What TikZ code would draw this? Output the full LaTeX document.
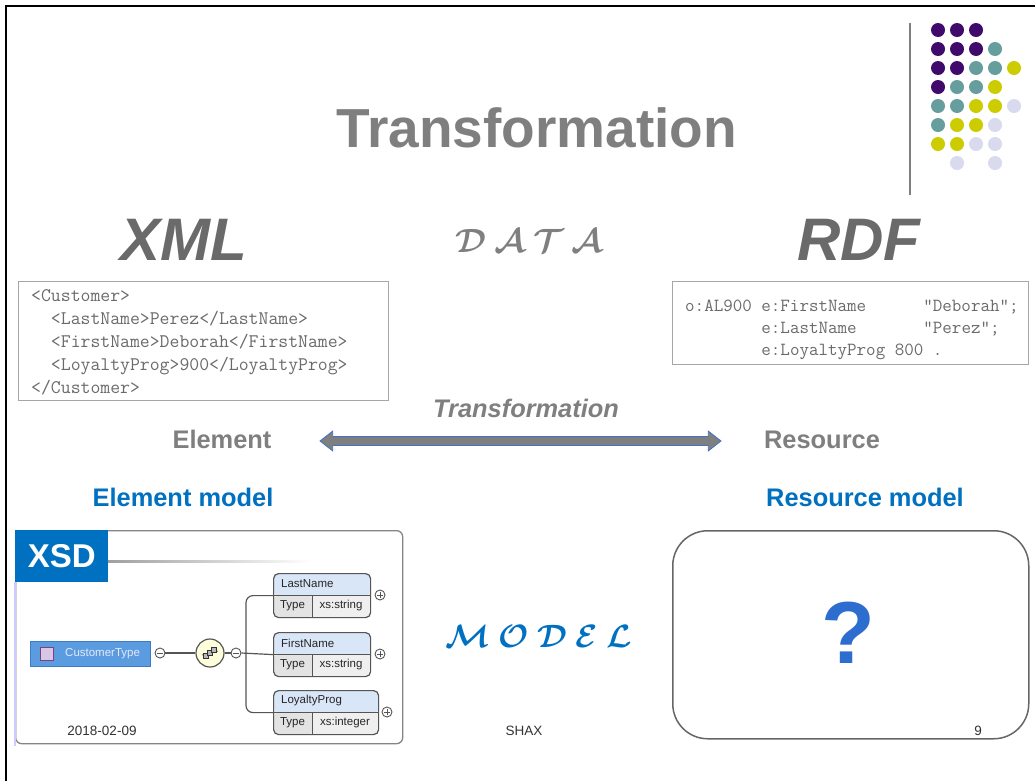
\documentclass[tikz,border=0pt]{standalone}
\usepackage{fontspec}
\setmainfont{Liberation Sans}
\usetikzlibrary{shapes.arrows}

\definecolor{titlegray}{HTML}{7F7F7F}
\definecolor{codegray}{HTML}{6A6A6A}
\definecolor{boxgray}{HTML}{A6A6A6}
\definecolor{modelblue}{HTML}{0070C0}
\definecolor{qblue}{HTML}{2E6DD0}
\definecolor{arrowblue}{HTML}{4472C4}
\definecolor{dpurple}{HTML}{3F0A6B}
\definecolor{dteal}{HTML}{669D9D}
\definecolor{dyellow}{HTML}{CCCC00}
\definecolor{dlav}{HTML}{DADAEE}
\definecolor{ctblue}{HTML}{5B9BE0}
\definecolor{ctedge}{HTML}{3C7CC8}
\definecolor{cttext}{HTML}{E4EAFA}
\definecolor{hdrblue}{HTML}{D9E6F7}
\definecolor{cellgray}{HTML}{EFEFEF}
\definecolor{typegray}{HTML}{E3E3E3}
\definecolor{edgegray}{HTML}{555555}
\definecolor{seqfill}{HTML}{FFFFDC}
\definecolor{footgray}{HTML}{333333}

\tikzset{
  codebox/.style={draw=boxgray, line width=1pt, inner sep=0pt, anchor=north west},
  codetext/.style={text=codegray, inner sep=0pt, anchor=north west, align=left},
  bigword/.style={text=codegray, anchor=base, font=\bfseries\itshape\fontsize{60}{60}\selectfont},
  scriptword/.style={anchor=base, font=\boldmath\fontsize{25}{25}\selectfont},
  midword/.style={text=titlegray, anchor=base, font=\bfseries\fontsize{25.4}{26}\selectfont},
  modelword/.style={text=modelblue, anchor=base, font=\bfseries\fontsize{25.4}{26}\selectfont},
  foot/.style={text=footgray, anchor=base, font=\fontsize{13.5}{14}\selectfont},
  small/.style={text=black!85, inner sep=0pt, font=\fontsize{11.5}{12}\selectfont},
  xline/.style={draw=edgegray, line width=1.2pt},
  pm/.style={circle, draw=edgegray, fill=white, line width=0.9pt, minimum size=10pt, inner sep=0pt},
  minus/.style={pm, path picture={\draw[line width=0.9pt]
      ([xshift=-2.6pt]path picture bounding box.center) --
      ([xshift=2.6pt]path picture bounding box.center);}},
  plus/.style={pm, path picture={\draw[line width=0.9pt]
      ([xshift=-2.6pt]path picture bounding box.center) --
      ([xshift=2.6pt]path picture bounding box.center)
      ([yshift=-2.6pt]path picture bounding box.center) --
      ([yshift=2.6pt]path picture bounding box.center);}},
  elem/.style={draw=edgegray, line width=1.2pt, rounded corners=5pt, fill=cellgray,
    minimum height=44pt, inner sep=0pt, anchor=north west,
    path picture={
      \fill[typegray] ([yshift=-22pt]path picture bounding box.north west)
          rectangle ([xshift=39pt]path picture bounding box.south west);
      \fill[hdrblue] (path picture bounding box.north west)
          rectangle ([yshift=-22pt]path picture bounding box.north east);
      \draw[edgegray, line width=1pt]
          ([yshift=-22pt]path picture bounding box.north west) --
          ([yshift=-22pt]path picture bounding box.north east)
          ([xshift=39pt,yshift=-22pt]path picture bounding box.north west) --
          ([xshift=39pt]path picture bounding box.south west);}},
}

\begin{document}
\begin{tikzpicture}[x=1pt,y=-1pt]
\useasboundingbox (0,0) rectangle (1035,780);
\fill[white] (0,0) rectangle (1035,780);

% slide frame
\draw[black, line width=2.2pt] (6,782) -- (6,6) -- (1037,6);

% corner decoration: rule and dot grid
\draw[titlegray, line width=1.6pt] (910,23) -- (910,195);
\foreach \c/\r/\col in {
  1/1/dpurple,2/1/dpurple,3/1/dpurple,
  1/2/dpurple,2/2/dpurple,3/2/dpurple,4/2/dteal,
  1/3/dpurple,2/3/dpurple,3/3/dteal,4/3/dteal,5/3/dyellow,
  1/4/dpurple,2/4/dteal,3/4/dteal,4/4/dyellow,
  1/5/dteal,2/5/dteal,3/5/dyellow,4/5/dyellow,5/5/dlav,
  1/6/dteal,2/6/dyellow,3/6/dyellow,4/6/dlav,
  1/7/dyellow,2/7/dyellow,3/7/dlav,4/7/dlav,
  2/8/dlav,4/8/dlav}
  \fill[\col] ({919+19*\c},{11+19*\r}) circle (7pt);

% title
\node[text=titlegray, anchor=base, font=\bfseries\fontsize{55}{57}\selectfont]
  (title) at (537,147) {Transformation};

% headings of the two columns
\node[bigword] (xml) at (184,260) {XML};
\node[bigword] (rdf) at (859,260) {RDF};
\node[scriptword, text=titlegray] (data) at (529,252)
  {\scalebox{1.35}{$\mathcal{D}\hspace{6pt}\mathcal{A}\hspace{6pt}\mathcal{T}\hspace{6pt}\mathcal{A}$}};

% XML sample
\node[codebox, minimum width=370pt, minimum height=119pt] (xmlbox) at (18,281) {};
\node[codetext, font=\ttfamily\fontsize{19.2}{23}\selectfont] (xmlcode) at (31,289) {%
<Customer>\\
\ \ <LastName>Perez</LastName>\\
\ \ <FirstName>Deborah</FirstName>\\
\ \ <LoyaltyProg>900</LoyaltyProg>\\
</Customer>};

% RDF sample
\node[codebox, minimum width=356pt, minimum height=83pt] (rdfbox) at (672,281) {};
\node[codetext, font=\ttfamily\fontsize{18.5}{22}\selectfont] (rdfcode) at (685,300) {%
o:AL900\ e:FirstName\ \ \ \ \ \ "Deborah";\\
\ \ \ \ \ \ \ \ e:LastName\ \ \ \ \ \ \ "Perez";\\
\ \ \ \ \ \ \ \ e:LoyaltyProg\ 800\ .};

% transformation between element and resource
\node[midword] (el) at (222,448) {Element};
\node[midword] (res) at (822,448) {Resource};
\node[shape=double arrow, draw=arrowblue, fill=titlegray, line width=0.8pt,
  minimum height=401pt, inner sep=0pt, inner ysep=4pt,
  double arrow head extend=5.5pt, double arrow tip angle=76]
  (tarrow) at (520.5,441) {};
\node[text=titlegray, anchor=base, font=\bfseries\itshape\fontsize{25.4}{26}\selectfont]
  (tlabel) at (526,417) {Transformation};

\node[modelword] (elmodel) at (183,506) {Element model};
\node[modelword] (resmodel) at (865,506) {Resource model};

% XSD schema panel
\node[draw=boxgray!80!black, line width=1.3pt, rounded corners=6pt, inner sep=0pt,
  minimum width=387pt, minimum height=213pt, anchor=north west] (xsdbox) at (15,530) {};
\draw[blue!20, line width=1.3pt] (15,582) -- (15,746);
\node[fill=modelblue, text=white, inner sep=0pt, minimum width=93pt, minimum height=52pt,
  anchor=north west, font=\bfseries\fontsize{33}{33}\selectfont] (xsdlabel) at (15,530) {XSD};
\shade[left color=gray!75, right color=white] (108,560) rectangle (312,562);

\node[fill=ctblue, draw=ctedge, line width=0.6pt, minimum width=120pt, minimum height=25pt,
  inner sep=0pt, anchor=west] (ct) at (30,653.5) {};
\node[fill=dlav!80!violet!70, draw=violet!50!gray, line width=0.6pt, minimum size=13pt,
  inner sep=0pt] (cticon) at (47,653.5) {};
\node[small, text=cttext, anchor=west] (cttext) at (65,654) {CustomerType};

\node[minus] (m1) at (160,653) {};
\node[circle, draw=edgegray, fill=seqfill, line width=1.2pt, minimum size=28pt,
  inner sep=0pt] (seq) at (210,653) {};
\node[minus] (m2) at (236,653) {};
\begin{scope}[shift={(seq.center)}]
  \draw[edgegray, line width=0.8pt] (-8,2) -- (8,-2);
  \foreach \dx/\dy in {-4/3,0/0,4/-3}
    \filldraw[fill=gray!55, draw=black!80, line width=0.5pt]
      ({\dx-2.6},{\dy-2.6}) rectangle ({\dx+2.6},{\dy+2.6});
\end{scope}

\node[elem, minimum width=97pt] (ln) at (273,573) {};
\node[elem, minimum width=97pt] (fn) at (273,632) {};
\node[elem, minimum width=105pt] (lp) at (273,690) {};

\node[small, anchor=west] (lnname) at (281,584) {LastName};
\node[small] (lntype) at (292.5,606) {Type};
\node[small] (lnval) at (341,606) {xs:string};
\node[small, anchor=west] (fnname) at (281,643) {FirstName};
\node[small] (fntype) at (292.5,665) {Type};
\node[small] (fnval) at (341,665) {xs:string};
\node[small, anchor=west] (lpname) at (281,701) {LoyaltyProg};
\node[small] (lptype) at (292.5,723) {Type};
\node[small] (lpval) at (345,723) {xs:integer};

\node[plus] (p1) at (380,595) {};
\node[plus] (p2) at (380,654) {};
\node[plus] (p3) at (387,712) {};

\coordinate (branch) at (246,653);
\draw[xline] (m1) -- (seq);
\draw[xline] (seq) -- (m2);
\draw[xline] (m2.east) -- (fn.west);
\draw[xline, rounded corners=7pt] (ln.west) -| (branch) |- (lp.west);

% resource model panel
\node[draw=edgegray!90, line width=1.5pt, rounded corners=35pt, inner sep=0pt,
  minimum width=356pt, minimum height=208pt, anchor=north west] (rbox) at (672,530) {};
\node[text=qblue, font=\bfseries\fontsize{88}{88}\selectfont] (qmark) at (848,633) {?};

% footer
\node[foot] (date) at (102,735) {2018-02-09};
\node[foot] (shax) at (524,735) {SHAX};
\node[foot] (pageno) at (978,735) {9};

% model caption
\node[scriptword, text=modelblue] (model) at (539,647)
  {\scalebox{1.3}{$\mathcal{M}\hspace{6.5pt}\mathcal{O}\hspace{6.5pt}\mathcal{D}\hspace{6.5pt}\mathcal{E}\hspace{6.5pt}\mathcal{L}$}};
\end{tikzpicture}
\end{document}
